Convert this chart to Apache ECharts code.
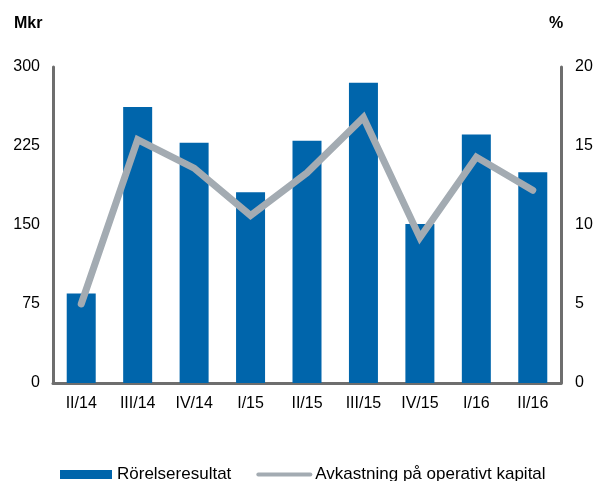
<!DOCTYPE html>
<html>
<head>
<meta charset="utf-8">
<script src="https://cdn.jsdelivr.net/npm/echarts@6/dist/echarts.min.js"></script>
<style>
  html, body { margin: 0; padding: 0; background: #fff; }
  #chart { width: 596px; height: 481px; }
</style>
</head>
<body>
<div id="chart"></div>
<script>
// kvartal
var kvartal = ['II/14', 'III/14', 'IV/14', 'I/15', 'II/15', 'III/15', 'IV/15', 'I/16', 'II/16'];
// Rörelseresultat, Mkr
var rorelseresultat = [85, 262, 228, 181, 230, 285, 151, 236, 200];
// Avkastning på operativt kapital, %
var avkastning = [5.0, 15.4, 13.6, 10.6, 13.3, 16.8, 9.2, 14.3, 12.2];

var chart = echarts.init(document.getElementById('chart'));

var fnt = 'Liberation Sans, Arial, sans-serif';

option = {
    animation: false,
    grid: {
        left: 53,
        right: 35,
        top: 67,
        bottom: 98
    },
    legend: {
        left: 55,
        top: 461,
        itemWidth: 52,
        itemHeight: 9,
        itemGap: 25,
        textStyle: { fontFamily: fnt, fontSize: 17, color: '#000' },
        data: [
            { name: 'Rörelseresultat', icon: 'rect' },
            { name: 'Avkastning på operativt kapital', itemStyle: { opacity: 0 }, lineStyle: { width: 4, opacity: 1 } }
        ]
    },
    graphic: [
        { type: 'text', left: 14, top: 16, style: { text: 'Mkr', font: 'bold 16px ' + fnt, fill: '#000' } },
        { type: 'text', left: 549, top: 16, style: { text: '%', font: 'bold 16px ' + fnt, fill: '#000' } }
    ],
    xAxis: {
        type: 'category',
        data: kvartal,
        axisLine: { lineStyle: { color: '#6e6e6e', width: 3 } },
        axisTick: { show: false },
        axisLabel: { fontFamily: fnt, fontSize: 16, color: '#000', margin: 13 }
    },
    yAxis: [
        {
            type: 'value',
            min: 0, max: 300, interval: 75,
            axisLine: { show: true, lineStyle: { color: '#6e6e6e', width: 3 } },
            axisTick: { show: false },
            splitLine: { show: false },
            axisLabel: { fontFamily: fnt, fontSize: 16, color: '#000', margin: 13 }
        },
        {
            type: 'value',
            min: 0, max: 20, interval: 5,
            position: 'right',
            axisLine: { show: true, lineStyle: { color: '#6e6e6e', width: 3 } },
            axisTick: { show: false },
            splitLine: { show: false },
            axisLabel: { fontFamily: fnt, fontSize: 16, color: '#000', margin: 14 }
        }
    ],
    series: [
        {
            name: 'Rörelseresultat',
            type: 'bar',
            barWidth: 29,
            itemStyle: { color: '#0065ab' },
            data: rorelseresultat
        },
        {
            name: 'Avkastning på operativt kapital',
            type: 'line',
            yAxisIndex: 1,
            symbol: 'none',
            lineStyle: { color: '#a3abb2', width: 7, cap: 'round', join: 'miter' },
            itemStyle: { color: '#a3abb2' },
            data: avkastning
        }
    ]
};

chart.setOption(option);
</script>
</body>
</html>
